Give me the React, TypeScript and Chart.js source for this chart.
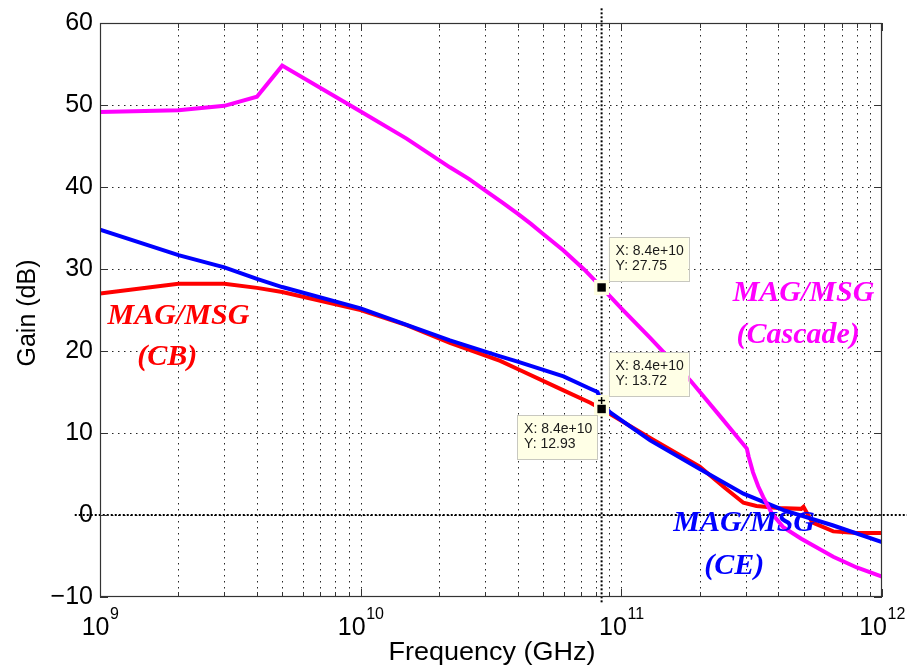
import React, { useEffect, useRef } from 'react';
import { Chart, registerables } from 'chart.js';

Chart.register(...registerables);

// ---------------- data ----------------
const cascadeFreq = [1e9, 2e9, 3e9, 4e9, 5e9, 1e10, 1.5e10, 2.2e10, 2.6e10, 3e10, 3.5e10, 4e10, 4.5e10, 5e10, 6e10, 7.2e10, 8.4e10, 1e11, 1.29e11, 1.84e11, 2.4e11, 3.03e11, 3.08e11, 3.2e11, 3.35e11, 3.5e11, 3.78e11, 4.18e11, 4.9e11, 6.5e11, 8e11, 1e12];
const cascadeGain = [49.15, 49.35, 49.9, 51.0, 54.8, 49.2, 45.9, 42.4, 41.0, 39.6, 38.1, 36.75, 35.5, 34.3, 32.25, 29.95, 27.75, 25.2, 21.6, 16.4, 12.0, 8.1, 7.1, 5.2, 3.5, 2.2, 0.2, -1.5, -2.9, -5.1, -6.4, -7.5];

const ceFreq = [1e9, 2e9, 3e9, 4e9, 5e9, 1e10, 2.2e10, 3.43e10, 4e10, 6e10, 7.6e10, 8.1e10, 8.4e10, 9.06e10, 1.29e11, 2e11, 2.94e11, 4.19e11, 6.46e11, 1e12];
const ceGain = [34.8, 31.7, 30.2, 28.8, 27.8, 25.2, 21.3, 19.35, 18.7, 16.9, 15.4, 15.0, 13.72, 12.5, 9.1, 5.6, 2.6, 0.6, -1.25, -3.3];

const cbFreq = [1e9, 2e9, 3e9, 4e9, 5e9, 1e10, 1.5e10, 2.2e10, 3.43e10, 4e10, 6e10, 7.6e10, 8.4e10, 9.06e10, 1.29e11, 2e11, 2.5e11, 2.94e11, 3.3e11, 4e11, 4.9e11, 5e11, 5.4e11, 6.5e11, 8e11, 1e12];
const cbGain = [27.0, 28.2, 28.2, 27.7, 27.2, 25.0, 23.15, 21.0, 18.8, 17.8, 15.2, 13.7, 12.93, 12.3, 9.4, 5.9, 3.3, 1.5, 1.1, 0.85, 0.75, 1.0, -0.9, -2.0, -2.2, -2.2];

const cursorFreq = 8.4e10;
const cursorGainRange = [-10.65, 61.8];
const zeroLineFreqRange = [8.0e8, 1.25e12];

const yTicks = [-10, 0, 10, 20, 30, 40, 50, 60];
const xDecades = [1e9, 1e10, 1e11, 1e12];
const xDecadeExponents = ['9', '10', '11', '12'];
const xMultipliers = [2, 3, 4, 5, 6, 7, 8, 9];

const tipFreqs = [8.4e10, 8.4e10, 8.4e10];
const tipGains = [27.75, 13.72, 12.93];
const tipLineX = ['X: 8.4e+10', 'X: 8.4e+10', 'X: 8.4e+10'];
const tipLineY = ['Y: 27.75', 'Y: 13.72', 'Y: 12.93'];
const tipMarkers = ['square', 'cross', 'square'];
const tipSides = ['upRight', 'upRight', 'downLeft'];

const labelTexts = ['MAG/MSG', '(CB)', 'MAG/MSG', '(Cascade)', 'MAG/MSG', '(CE)'];
const labelFreqs = [2.0e9, 1.81e9, 5.0e11, 4.77e11, 2.96e11, 2.71e11];
const labelGains = [24.2, 19.2, 27.1, 21.9, -0.95, -6.3];
const labelColors = ['#ff0000', '#ff0000', '#ff00ff', '#ff00ff', '#0000ff', '#0000ff'];

const xTitle = 'Frequency (GHz)';
const yTitle = 'Gain (dB)';

const SANS = '"Liberation Sans", Arial, sans-serif';
const SERIF = '"Liberation Serif", "Times New Roman", serif';

const toPts = (xs: number[], ys: number[]) => xs.map((x, i) => ({ x, y: ys[i] }));

const matlabPlugin = {
  id: 'matlabLook',
  beforeDatasetsDraw(chart: any) {
    const { ctx, chartArea: a, scales } = chart;
    const xs = scales.x, ys = scales.y;
    ctx.save();
    ctx.strokeStyle = '#262626';
    ctx.lineWidth = 1;
    ctx.setLineDash([1.5, 4.5]);
    const xGrid: number[] = [];
    for (let d = 0; d < xDecades.length - 1; d++) {
      if (d > 0) xGrid.push(xDecades[d]);
      xMultipliers.forEach((m) => xGrid.push(xDecades[d] * m));
    }
    xGrid.forEach((v) => {
      const px = Math.round(xs.getPixelForValue(v)) + 0.5;
      ctx.beginPath();
      ctx.moveTo(px, a.top);
      ctx.lineTo(px, a.bottom);
      ctx.stroke();
    });
    yTicks.forEach((t) => {
      const py = Math.round(ys.getPixelForValue(t)) + 0.5;
      if (py <= a.top + 1 || py >= a.bottom - 1) return;
      ctx.beginPath();
      ctx.moveTo(a.left, py);
      ctx.lineTo(a.right, py);
      ctx.stroke();
    });
    ctx.restore();
  },
  afterDatasetsDraw(chart: any) {
    const { ctx, chartArea: a, scales } = chart;
    const xs = scales.x, ys = scales.y;
    ctx.save();
    // box
    ctx.strokeStyle = '#333';
    ctx.lineWidth = 1.2;
    ctx.setLineDash([]);
    ctx.strokeRect(a.left + 0.5, a.top + 0.5, a.right - a.left - 1, a.bottom - a.top - 1);
    // tick marks
    ctx.lineWidth = 1;
    const tick = (x1: number, y1: number, x2: number, y2: number) => {
      ctx.beginPath();
      ctx.moveTo(x1, y1);
      ctx.lineTo(x2, y2);
      ctx.stroke();
    };
    for (let d = 0; d < xDecades.length; d++) {
      const px = Math.round(xs.getPixelForValue(xDecades[d])) + 0.5;
      tick(px, a.bottom, px, a.bottom - 8);
      tick(px, a.top, px, a.top + 8);
      if (d < xDecades.length - 1) {
        xMultipliers.forEach((m) => {
          const p = Math.round(xs.getPixelForValue(xDecades[d] * m)) + 0.5;
          tick(p, a.bottom, p, a.bottom - 5);
          tick(p, a.top, p, a.top + 5);
        });
      }
    }
    yTicks.forEach((t) => {
      const py = Math.round(ys.getPixelForValue(t)) + 0.5;
      tick(a.left, py, a.left + 8, py);
      tick(a.right, py, a.right - 8, py);
    });

    // data tips: halos
    const pts = tipFreqs.map((f, i) => ({ px: xs.getPixelForValue(f), py: ys.getPixelForValue(tipGains[i]) }));
    ctx.fillStyle = '#ffffe1';
    pts.forEach(({ px, py }) => ctx.fillRect(px - 7.5, py - 7.5, 15, 15));
    // markers
    pts.forEach(({ px, py }, i) => {
      ctx.fillStyle = '#000';
      ctx.strokeStyle = '#000';
      if (tipMarkers[i] === 'square') {
        ctx.fillRect(px - 4.2, py - 4.2, 8.4, 8.4);
      } else {
        ctx.lineWidth = 1.5;
        tick(px - 3.5, py - 2, px + 3.5, py - 2);
        tick(px, py - 5.5, px, py + 1.5);
      }
    });
    // boxes
    pts.forEach(({ px, py }, i) => {
      const w = 80, h = 44;
      const bx = tipSides[i] === 'upRight' ? px + 7 : px - 84.5;
      const by = tipSides[i] === 'upRight' ? py - 50.5 : py + 6;
      ctx.fillStyle = '#ffffe6';
      ctx.fillRect(bx, by, w, h);
      ctx.strokeStyle = '#c8c8c0';
      ctx.lineWidth = 1;
      ctx.strokeRect(Math.round(bx) + 0.5, Math.round(by) + 0.5, w, h);
      ctx.fillStyle = '#1a1a1a';
      ctx.font = `14px ${SANS}`;
      ctx.textAlign = 'left';
      ctx.textBaseline = 'middle';
      ctx.fillText(tipLineX[i], bx + 7, by + 14);
      ctx.fillText(tipLineY[i], bx + 7, by + 29);
    });

    // curve labels
    ctx.font = `italic bold 30px ${SERIF}`;
    ctx.textAlign = 'center';
    ctx.textBaseline = 'middle';
    labelTexts.forEach((t, i) => {
      ctx.fillStyle = labelColors[i];
      ctx.fillText(t, xs.getPixelForValue(labelFreqs[i]), ys.getPixelForValue(labelGains[i]));
    });
    ctx.restore();
  },
  afterDraw(chart: any) {
    const { ctx, chartArea: a, scales } = chart;
    const xs = scales.x;
    ctx.save();
    ctx.fillStyle = '#000';
    ctx.textBaseline = 'alphabetic';
    ctx.textAlign = 'left';
    xDecades.forEach((v, i) => {
      const px = xs.getPixelForValue(v);
      ctx.font = `25px ${SANS}`;
      const w1 = ctx.measureText('10').width;
      ctx.font = `16px ${SANS}`;
      const w2 = ctx.measureText(xDecadeExponents[i]).width;
      const left = px - (w1 + w2) / 2;
      ctx.font = `25px ${SANS}`;
      ctx.fillText('10', left, 635);
      ctx.font = `16px ${SANS}`;
      ctx.fillText(xDecadeExponents[i], left + w1 + 0.5, 619);
    });
    ctx.font = `25px ${SANS}`;
    ctx.textAlign = 'center';
    ctx.save();
    ctx.translate((a.left + a.right) / 2 + 1, 660);
    ctx.scale(1.08, 1);
    ctx.fillText(xTitle, 0, 0);
    ctx.restore();
    ctx.translate(35, (a.top + a.bottom) / 2 + 3);
    ctx.rotate(-Math.PI / 2);
    ctx.fillText(yTitle, 0, 0);
    ctx.restore();
  },
};

export default function App() {
  const canvasRef = useRef<HTMLCanvasElement | null>(null);

  useEffect(() => {
    if (!canvasRef.current) return;
    const chart = new Chart(canvasRef.current, {
      type: 'line',
      data: {
        datasets: [
          {
            label: 'MAG/MSG (Cascode)',
            data: toPts(cascadeFreq, cascadeGain),
            borderColor: '#ff00ff',
            borderWidth: 4,
            pointRadius: 0,
            tension: 0,
            fill: false,
            order: 0,
          },
          {
            label: 'MAG/MSG (CE)',
            data: toPts(ceFreq, ceGain),
            borderColor: '#0000ff',
            borderWidth: 4,
            pointRadius: 0,
            tension: 0,
            fill: false,
            order: 1,
          },
          {
            label: 'MAG/MSG (CB)',
            data: toPts(cbFreq, cbGain),
            borderColor: '#ff0000',
            borderWidth: 4,
            pointRadius: 0,
            tension: 0,
            fill: false,
            order: 2,
          },
          {
            label: 'cursor',
            data: cursorGainRange.map((g) => ({ x: cursorFreq, y: g })),
            borderColor: '#000',
            borderWidth: 2,
            borderDash: [2, 2],
            pointRadius: 0,
            fill: false,
            clip: false as any,
            order: 3,
          },
          {
            label: 'zero',
            data: zeroLineFreqRange.map((f) => ({ x: f, y: 0 })),
            borderColor: '#000',
            borderWidth: 2,
            borderDash: [2, 2],
            pointRadius: 0,
            fill: false,
            clip: false as any,
            order: 4,
          },
        ],
      },
      options: {
        responsive: false,
        animation: false,
        devicePixelRatio: 1,
        events: [],
        layout: { padding: { left: 0, right: 25, top: 23, bottom: 0 } },
        plugins: {
          legend: { display: false },
          tooltip: { enabled: false },
          title: { display: false },
        },
        scales: {
          x: {
            type: 'logarithmic',
            min: 1e9,
            max: 1e12,
            grid: { display: false, drawTicks: false },
            border: { display: false },
            ticks: { display: false },
            afterFit: (s: any) => {
              s.height = 71;
            },
          },
          y: {
            type: 'linear',
            min: -10,
            max: 60,
            grid: { display: false, drawTicks: false },
            border: { display: false },
            ticks: {
              stepSize: 10,
              padding: 7,
              color: '#000',
              font: { family: SANS, size: 25 },
              callback: (v: any) => (Number(v) < 0 ? '\u2212' + Math.abs(Number(v)) : String(v)),
            },
            afterFit: (s: any) => {
              s.width = 100;
            },
          },
        },
      } as any,
      plugins: [matlabPlugin],
    });
    return () => chart.destroy();
  }, []);

  return (
    <div style={{ position: 'absolute', left: 0, top: 0, width: 907, height: 668, background: '#fff' }}>
      <canvas ref={canvasRef} width={907} height={668} style={{ display: 'block' }} />
    </div>
  );
}
